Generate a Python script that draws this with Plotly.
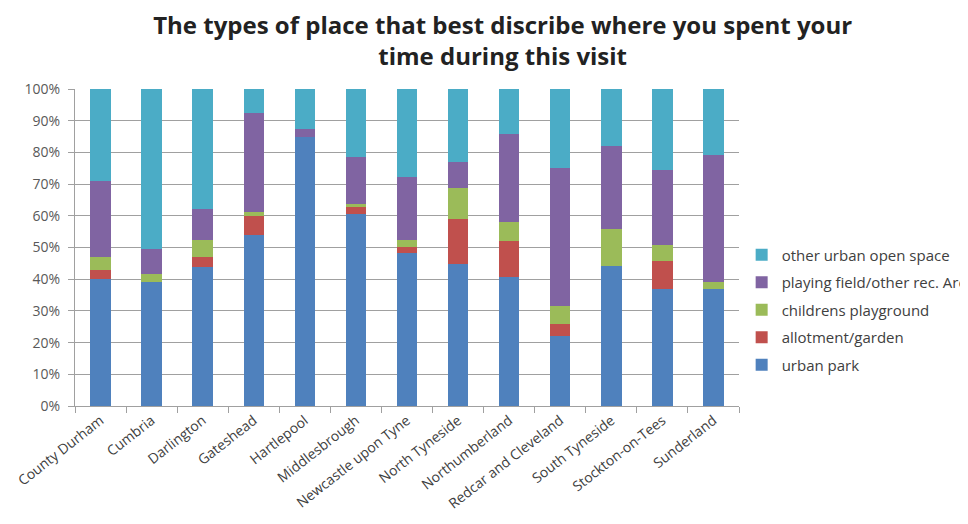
import plotly.graph_objects as go

categories = ["County Durham", "Cumbria", "Darlington", "Gateshead", "Hartlepool",
              "Middlesbrough", "Newcastle upon Tyne", "North Tyneside", "Northumberland",
              "Redcar and Cleveland", "South Tyneside", "Stockton-on-Tees", "Sunderland"]

urban_park = [40, 39, 44, 54, 85, 60.6, 48.4, 44.8, 40.8, 22.1, 44.2, 36.9, 36.9]
allotment_garden = [3, 0, 3, 6, 0, 2.1, 1.9, 14.1, 11.3, 3.7, 0, 8.7, 0]
childrens_playground = [4, 2.5, 5.5, 1.3, 0, 1.1, 2.1, 9.8, 5.8, 5.9, 11.5, 5.2, 2.3]
playing_field = [24, 8, 9.5, 31, 2.4, 14.6, 19.8, 8.2, 27.9, 43.4, 26.3, 23.6, 39.9]
other_open_space = [29, 50.5, 38, 7.7, 12.6, 21.6, 27.8, 23.1, 14.2, 24.9, 18, 25.6, 20.9]

series = [
    ("urban park", urban_park, "#4F81BD"),
    ("allotment/garden", allotment_garden, "#C0504D"),
    ("childrens playground", childrens_playground, "#9BBB59"),
    ("playing field/other rec. Area", playing_field, "#8064A2"),
    ("other urban open space", other_open_space, "#4BACC6"),
]

fig = go.Figure()
n = len(series)
for i, (name, vals, col) in enumerate(series):
    fig.add_trace(go.Bar(x=categories, y=vals, name=name, marker_color=col,
                         marker_line_width=0, legendgroup=name, legendrank=n - i))

fig.update_layout(
    barmode="stack",
    bargap=0.6,
    width=968, height=524,
    paper_bgcolor="white", plot_bgcolor="white",
    margin=dict(l=67, r=237, t=81, b=126, autoexpand=False),
    font=dict(family="Open Sans", size=12, color="#404040"),
    title=dict(text="<b>The types of place that best discribe where you spent your<br>time during this visit</b>",
               x=0.511, xanchor="center", y=0.951, yanchor="middle",
               font=dict(family="Open Sans", size=24, color="#222222")),
    legend=dict(x=1.004, xanchor="left", y=0.303, yanchor="middle",
                traceorder="grouped", tracegroupgap=5,
                font=dict(family="Open Sans", size=15, color="#404040"),
                itemwidth=30),
    showlegend=True,
)
fig.update_yaxes(range=[0, 100], dtick=10, ticksuffix="%", showgrid=True,
                 gridcolor="#a0a0a0", gridwidth=1, showline=True, linecolor="#a0a0a0",
                 ticks="outside", ticklen=6, tickcolor="#a0a0a0", ticklabelstandoff=5,
                 tickfont=dict(size=14, color="#595959"), zeroline=False)
fig.update_xaxes(showline=True, linecolor="#a0a0a0", ticks="outside", tickson="boundaries",
                 ticklen=6, tickcolor="#a0a0a0", tickangle=-38,
                 tickfont=dict(size=14, color="#404040"))

fig.write_html("out.html")
